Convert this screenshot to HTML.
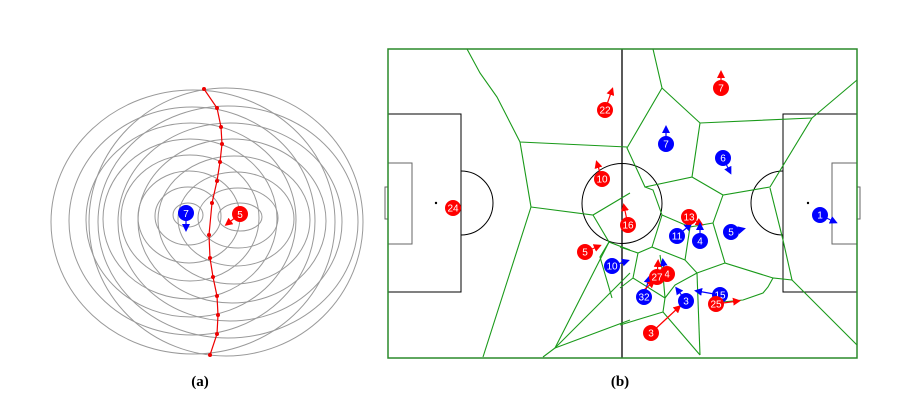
<!DOCTYPE html>
<html><head><meta charset="utf-8"><style>
html,body{margin:0;padding:0;background:#fff;}
svg{display:block;}
text{font-family:"Liberation Sans",sans-serif;}
</style></head><body>
<svg width="920" height="418" viewBox="0 0 920 418" xmlns="http://www.w3.org/2000/svg">
<defs>
<marker id="ar" markerWidth="8" markerHeight="8" refX="5" refY="4" orient="auto" markerUnits="userSpaceOnUse"><path d="M0,0 L8,4 L0,8 z" fill="#f00"/></marker>
<marker id="ab" markerWidth="8" markerHeight="8" refX="5" refY="4" orient="auto" markerUnits="userSpaceOnUse"><path d="M0,0 L8,4 L0,8 z" fill="#00f"/></marker>
</defs>
<!-- (a) -->
<g fill="none" stroke="#999" stroke-width="1">
<ellipse cx="188" cy="215" rx="15" ry="12"/>
<ellipse cx="188" cy="216" rx="33" ry="29"/>
<ellipse cx="189" cy="217" rx="51" ry="46"/>
<ellipse cx="190" cy="218" rx="69" ry="63"/>
<ellipse cx="190" cy="219" rx="87" ry="80"/>
<ellipse cx="191" cy="220" rx="105" ry="97"/>
<ellipse cx="192" cy="221" rx="123" ry="114"/>
<ellipse cx="193" cy="222" rx="142" ry="132"/>
<ellipse cx="240" cy="217" rx="22" ry="14"/>
<ellipse cx="238" cy="218" rx="40" ry="30"/>
<ellipse cx="236" cy="219" rx="58" ry="47"/>
<ellipse cx="234" cy="220" rx="76" ry="64"/>
<ellipse cx="232" cy="221" rx="94" ry="82"/>
<ellipse cx="230" cy="222" rx="112" ry="99"/>
<ellipse cx="228" cy="222" rx="130" ry="116"/>
<ellipse cx="226" cy="222" rx="137" ry="134"/>
</g>
<polyline fill="none" stroke="#e00" stroke-width="1.2" points="204,89 217,108 221,127 222,144 220,162 217,181 212,203 209,235 210,258 213,277 217,296 218,315 217,334 210,355"/>
<g fill="#e00">
<circle cx="204" cy="89" r="2"/><circle cx="217" cy="108" r="2"/><circle cx="221" cy="127" r="2"/><circle cx="222" cy="144" r="2"/><circle cx="220" cy="162" r="2"/><circle cx="217" cy="181" r="2"/><circle cx="212" cy="203" r="2"/><circle cx="209" cy="235" r="2"/><circle cx="210" cy="258" r="2"/><circle cx="213" cy="277" r="2"/><circle cx="217" cy="296" r="2"/><circle cx="218" cy="315" r="2"/><circle cx="217" cy="334" r="2"/><circle cx="210" cy="355" r="2"/>
</g>
<line x1="186" y1="213" x2="186" y2="229" stroke="#00f" stroke-width="1.2" marker-end="url(#ab)"/>
<circle cx="186" cy="213" r="8" fill="#00f"/><text x="186" y="217" font-size="10" fill="#fff" text-anchor="middle">7</text>
<line x1="240" y1="214" x2="227" y2="224" stroke="#f00" stroke-width="1.2" marker-end="url(#ar)"/>
<circle cx="240" cy="214" r="8" fill="#f00"/><text x="240" y="218" font-size="10" fill="#fff" text-anchor="middle">5</text>
<text x="200" y="386" font-size="15" font-weight="bold" text-anchor="middle" style="font-family:'Liberation Serif',serif">(a)</text>
<text x="620" y="386" font-size="15" font-weight="bold" text-anchor="middle" style="font-family:'Liberation Serif',serif">(b)</text>
<!-- (b) pitch -->
<g fill="none" stroke="#000" stroke-width="1">
<line x1="622" y1="49" x2="622" y2="358" stroke-width="1.3"/>
<rect x="388" y="114" width="73" height="178"/>
<rect x="388" y="163" width="24" height="81" stroke="#666"/>
<rect x="385" y="187" width="3" height="32" stroke="#666"/>
<path d="M461,171 A32,32 0 0 1 461,235"/>
<circle cx="622" cy="203.5" r="40"/>
<rect x="783" y="114" width="74" height="178"/>
<rect x="832" y="163" width="25" height="81" stroke="#666"/>
<rect x="857" y="187" width="3" height="32" stroke="#666"/>
<path d="M783,171 A32,32 0 0 0 783,235"/>
</g>
<circle cx="436" cy="203" r="1.2"/><circle cx="808" cy="203" r="1.2"/>
<g fill="none" stroke="#1a9a1a" stroke-width="1.1">
<polyline points="467,49 480,73 497,97 520,142 627,147"/>
<polyline points="520,142 531,207 483,357"/>
<polyline points="531,207 593,215 630,193"/>
<polyline points="593,215 609,242 630,250"/>
<polyline points="609,242 600,257 612,298"/>
<polyline points="609,242 555,348 543,357"/>
<polyline points="555,348 630,320"/>
<polyline points="555,348 630,273"/>
<polyline points="653,49 662,88 700,123 812,118 857,80"/>
<polyline points="662,88 627,148 645,187 692,177 700,123"/>
<polyline points="812,118 770,187 723,195 692,177"/>
<polyline points="770,188 783,240 792,280 857,345"/>
<polyline points="792,280 773,278 768,287 763,293 743,300 722,302"/>
<polyline points="723,195 713,223 725,263 773,278"/>
<polyline points="725,263 697,273 685,260 690,227 713,223"/>
<polyline points="690,227 662,215 653,190 645,187"/>
<polyline points="662,215 652,247 685,260"/>
<polyline points="652,247 638,253 620,247"/>
<polyline points="638,253 633,278 620,288"/>
<polyline points="633,278 665,298 675,285 697,273"/>
<polyline points="660,255 663,275 665,298 663,312 620,325"/>
<polyline points="663,312 700,355"/>
<polyline points="697,273 700,355"/>
</g>
<rect x="388" y="49" width="469" height="309" fill="none" stroke="#2a8a2a" stroke-width="1.5"/>
<!-- players -->
<g stroke-width="1.2">
<line x1="605" y1="110" x2="612" y2="90" stroke="#f00" marker-end="url(#ar)"/>
<line x1="721" y1="88" x2="721" y2="73" stroke="#f00" marker-end="url(#ar)"/>
<line x1="666" y1="144" x2="666" y2="128" stroke="#00f" marker-end="url(#ab)"/>
<line x1="723" y1="158" x2="730" y2="172" stroke="#00f" marker-end="url(#ab)"/>
<line x1="602" y1="179" x2="597" y2="163" stroke="#f00" marker-end="url(#ar)"/>
<line x1="628" y1="225" x2="624" y2="206" stroke="#f00" marker-end="url(#ar)"/>
<line x1="689" y1="217" x2="701" y2="224" stroke="#f00" marker-end="url(#ar)"/>
<line x1="677" y1="236" x2="690" y2="225" stroke="#00f" marker-end="url(#ab)"/>
<line x1="700" y1="241" x2="700" y2="225" stroke="#00f" marker-end="url(#ab)"/>
<line x1="731" y1="232" x2="743" y2="229" stroke="#00f" marker-end="url(#ab)"/>
<line x1="820" y1="215" x2="835" y2="222" stroke="#00f" marker-end="url(#ab)"/>
<line x1="585" y1="252" x2="599" y2="246" stroke="#f00" marker-end="url(#ar)"/>
<line x1="612" y1="266" x2="627" y2="261" stroke="#00f" marker-end="url(#ab)"/>
<line x1="665" y1="276" x2="663" y2="261" stroke="#00f" marker-end="url(#ab)"/>
<line x1="657" y1="277" x2="658" y2="262" stroke="#f00" marker-end="url(#ar)"/>
<line x1="644" y1="297" x2="649" y2="278" stroke="#00f" marker-end="url(#ab)"/>
<line x1="644" y1="290" x2="653" y2="282" stroke="#f00" marker-end="url(#ar)"/>
<line x1="686" y1="301" x2="677" y2="289" stroke="#00f" marker-end="url(#ab)"/>
<line x1="720" y1="295" x2="697" y2="291" stroke="#00f" marker-end="url(#ab)"/>
<line x1="716" y1="304" x2="738" y2="301" stroke="#f00" marker-end="url(#ar)"/>
<line x1="651" y1="333" x2="679" y2="307" stroke="#f00" marker-end="url(#ar)"/>
</g>
<g font-size="10" fill="#fff" text-anchor="middle">
<circle cx="605" cy="110" r="8" fill="#f00"/><text x="605" y="113.5">22</text>
<circle cx="721" cy="88" r="8" fill="#f00"/><text x="721" y="91.5">7</text>
<circle cx="666" cy="144" r="8" fill="#00f"/><text x="666" y="147.5">7</text>
<circle cx="723" cy="158" r="8" fill="#00f"/><text x="723" y="161.5">6</text>
<circle cx="602" cy="179" r="8" fill="#f00"/><text x="602" y="182.5">10</text>
<circle cx="453" cy="208" r="8" fill="#f00"/><text x="453" y="211.5">24</text>
<circle cx="628" cy="225" r="8" fill="#f00"/><text x="628" y="228.5">16</text>
<circle cx="689" cy="217" r="8" fill="#f00"/><text x="689" y="220.5">13</text>
<circle cx="677" cy="236" r="8" fill="#00f"/><text x="677" y="239.5">11</text>
<circle cx="700" cy="241" r="8" fill="#00f"/><text x="700" y="244.5">4</text>
<circle cx="731" cy="232" r="8" fill="#00f"/><text x="731" y="235.5">5</text>
<circle cx="820" cy="215" r="8" fill="#00f"/><text x="820" y="218.5">1</text>
<circle cx="585" cy="252" r="8" fill="#f00"/><text x="585" y="255.5">5</text>
<circle cx="612" cy="266" r="8" fill="#00f"/><text x="612" y="269.5">10</text>
<circle cx="667" cy="274" r="8" fill="#f00"/><text x="667" y="277.5">4</text>
<circle cx="657" cy="277" r="8" fill="#f00"/><text x="657" y="280.5">27</text>
<circle cx="644" cy="297" r="8" fill="#00f"/><text x="644" y="300.5">32</text>
<circle cx="686" cy="301" r="8" fill="#00f"/><text x="686" y="304.5">3</text>
<circle cx="720" cy="295" r="8" fill="#00f"/><text x="720" y="298.5">15</text>
<circle cx="716" cy="304" r="8" fill="#f00"/><text x="716" y="307.5">25</text>
<circle cx="651" cy="333" r="8" fill="#f00"/><text x="651" y="336.5">3</text>
</g>
</svg>
</body></html>
